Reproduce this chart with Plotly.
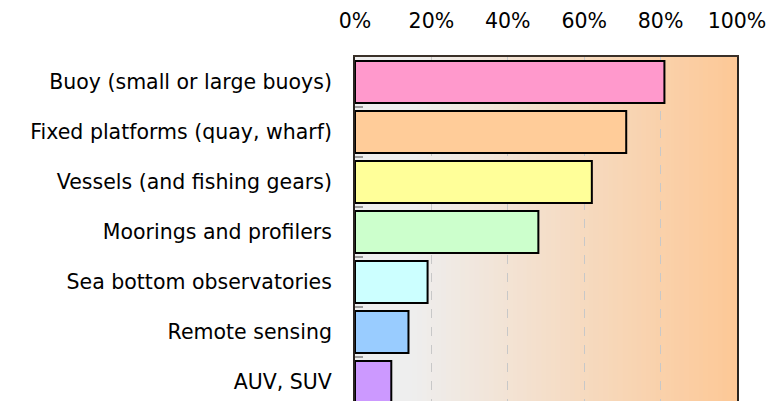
import plotly.graph_objects as go

categories = [
    "Buoy (small or large buoys)",
    "Fixed platforms (quay, wharf)",
    "Vessels (and fishing gears)",
    "Moorings and profilers",
    "Sea bottom observatories",
    "Remote sensing",
    "AUV, SUV",
]
values = [81, 71, 62, 48, 19, 14, 9.5]
bar_colors = ["#ff99cc", "#ffcc99", "#ffff99", "#ccffcc", "#ccffff", "#99ccff", "#cc99ff"]
tick_vals = [0, 20, 40, 60, 80, 100]
tick_text = ["0%", "20%", "40%", "60%", "80%", "100%"]

fig = go.Figure()
fig.add_trace(go.Bar(
    x=values, y=categories, orientation="h",
    marker=dict(color=bar_colors, line=dict(color="black", width=2)),
    hoverinfo="x+y",
))

# gradient background (grey -> orange)
c0 = (238, 238, 238)
c1 = (253, 200, 150)
n = 80
shapes = []
for i in range(n):
    t0 = i / n
    t1 = (i + 1) / n
    tm = (t0 + t1) / 2
    u = max(0.0, (tm - 0.15) / 0.85)
    col = tuple(round(c0[k] + (c1[k] - c0[k]) * u) for k in range(3))
    shapes.append(dict(type="rect", xref="x domain", yref="y domain",
                       x0=t0, x1=t1 + 0.002, y0=0, y1=1, layer="below",
                       line=dict(width=0), fillcolor="rgb(%d,%d,%d)" % col))

fig.update_layout(
    width=766, height=393,
    margin=dict(l=347, r=37, t=49, b=0),
    paper_bgcolor="white", plot_bgcolor="rgba(0,0,0,0)",
    font=dict(family="DejaVu Sans, sans-serif", size=20.5, color="black"),
    bargap=0.16,
    showlegend=False,
    shapes=shapes,
    xaxis=dict(
        side="top", range=[0, 100], tickvals=tick_vals, ticktext=tick_text,
        showgrid=True, gridcolor="#c8c8c8", griddash="dash", gridwidth=1,
        showline=True, linecolor="#3a3028", linewidth=2, mirror=False,
        ticks="outside", ticklen=19, tickcolor="rgba(0,0,0,0)",
        zeroline=False, layer="above traces",
    ),
    yaxis=dict(
        categoryorder="array", categoryarray=categories,
        range=[6.38, -0.5],
        showline=True, linecolor="#2a2420", linewidth=2, mirror=True,
        tickson="boundaries", ticks="inside", ticklen=8, tickwidth=2,
        tickcolor="#999999", ticklabelstandoff=17,
        showgrid=False, zeroline=False,
    ),
)

fig.write_html("out.html")
